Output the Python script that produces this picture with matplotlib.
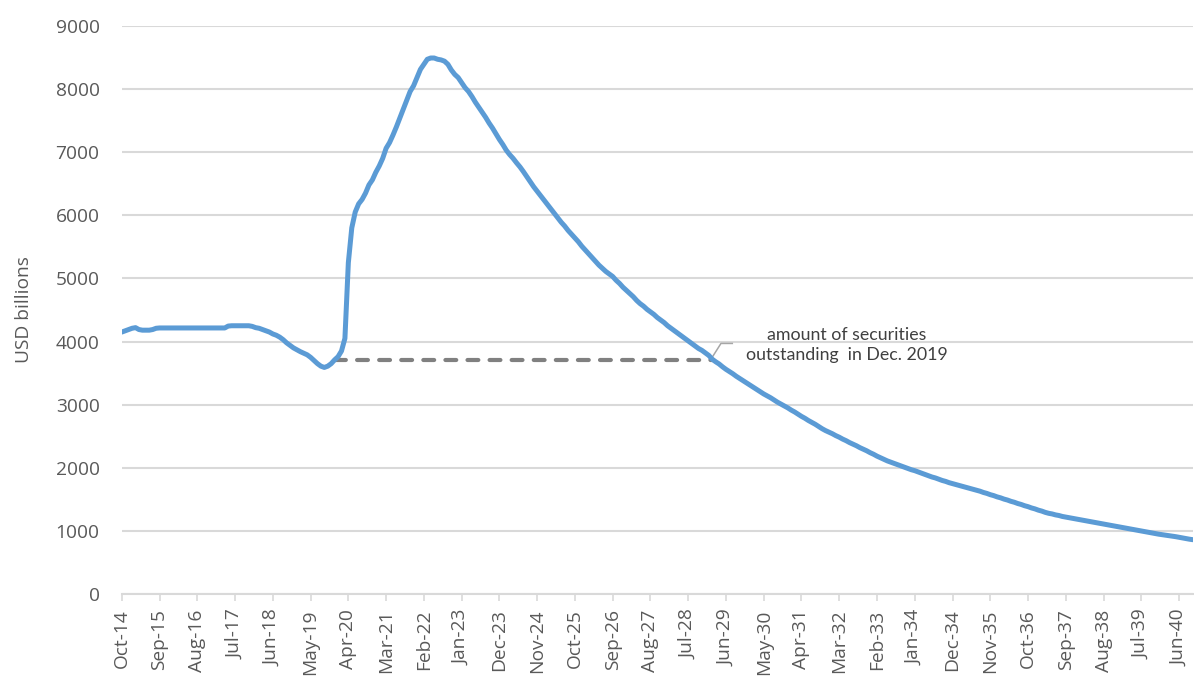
import matplotlib
matplotlib.use("Agg")
import matplotlib.pyplot as plt
import pandas as pd

# Monthly securities holdings, USD billions, Oct-2014 .. Oct-2040
start_month = "2014-10-01"
holdings = [
    4150, 4170, 4190,                                                      # 2014
    4210, 4220, 4190, 4180, 4180, 4180, 4190, 4210, 4215, 4215, 4215, 4215,  # 2015
    4215, 4215, 4215, 4215, 4215, 4215, 4215, 4215, 4215, 4215, 4215, 4215,  # 2016
    4215, 4215, 4215, 4215, 4245, 4250, 4250, 4250, 4250, 4250, 4250, 4240,  # 2017
    4220, 4210, 4190, 4170, 4150, 4120, 4100, 4070, 4030, 3980, 3940, 3900,  # 2018
    3870, 3840, 3815, 3790, 3750, 3700, 3650, 3610, 3590, 3610, 3650, 3710,  # 2019
    3760, 3850, 4050, 5250, 5800, 6050, 6180, 6250, 6350, 6480, 6560, 6680,  # 2020
    6780, 6900, 7060, 7150, 7270, 7400, 7540, 7680, 7820, 7960, 8050, 8180,  # 2021
    8310, 8390, 8470, 8490, 8490, 8470, 8460, 8440, 8390, 8300, 8230, 8180,  # 2022
    8100, 8020, 7960, 7880, 7790, 7710, 7630, 7550, 7460, 7380, 7290, 7200,  # 2023
    7120, 7030, 6960, 6900, 6830, 6765, 6690, 6610, 6530, 6450, 6380, 6310,  # 2024
    6240, 6170, 6100, 6030, 5960, 5890, 5830, 5760, 5700, 5640, 5580, 5510,  # 2025
    5450, 5390, 5330, 5270, 5210, 5160, 5110, 5070, 5030, 4970, 4920, 4860,  # 2026
    4810, 4760, 4710, 4650, 4600, 4560, 4510, 4470, 4430, 4380, 4340, 4300,  # 2027
    4250, 4210, 4170, 4130, 4090, 4050, 4010, 3970, 3930, 3890, 3860, 3820,  # 2028
    3780, 3720, 3680, 3645, 3600, 3560, 3525, 3490, 3450, 3415, 3380, 3345,  # 2029
    3310, 3275, 3240, 3205, 3170, 3140, 3110, 3075, 3040, 3010, 2980, 2950,  # 2030
    2915, 2885, 2850, 2815, 2785, 2750, 2720, 2690, 2655, 2620, 2590, 2565,  # 2031
    2540, 2510, 2485, 2455, 2430, 2400, 2375, 2350, 2320, 2295, 2270, 2240,  # 2032
    2215, 2185, 2160, 2135, 2110, 2090, 2070, 2050, 2030, 2010, 1990, 1970,  # 2033
    1955, 1935, 1915, 1895, 1875, 1855, 1840, 1820, 1800, 1785, 1765, 1750,  # 2034
    1735, 1720, 1705, 1690, 1675, 1660, 1645, 1630, 1610, 1595, 1575, 1560,  # 2035
    1540, 1525, 1505, 1490, 1470, 1455, 1435, 1420, 1400, 1385, 1365, 1350,  # 2036
    1330, 1315, 1295, 1280, 1270, 1255, 1245, 1230, 1220, 1210, 1200, 1190,  # 2037
    1180, 1170, 1160, 1150, 1140, 1130, 1120, 1110, 1100, 1090, 1080, 1070,  # 2038
    1060, 1050, 1040, 1030, 1020, 1010, 1000, 990, 980, 970, 960, 950,      # 2039
    942, 934, 926, 918, 910, 900, 890, 880, 870, 862,                      # 2040
]
ref_month = "2019-12-01"
tick_step = 11
y_ticks = list(range(0, 9001, 1000))
note_text = "amount of securities\noutstanding  in Dec. 2019"

months = pd.date_range(start_month, periods=len(holdings), freq="MS")
idx = list(range(len(holdings)))
labels = [m.strftime("%b-%y") for m in months]

# level in Dec-2019 and the month the runoff gets back to it
ref_i = list(months).index(pd.Timestamp(ref_month))
ref_val = holdings[ref_i]
peak_i = holdings.index(max(holdings))
back_i = next(i for i in range(peak_i, len(holdings)) if holdings[i] <= ref_val)
x_back = back_i - 1 + (holdings[back_i - 1] - ref_val) / (holdings[back_i - 1] - holdings[back_i])

txt = "#595959"
fs = 13.8
fig = plt.figure(figsize=(11.94, 6.79), dpi=100)
ax = fig.add_axes([0.102, 0.125, 0.897, 0.837])

ax.plot(idx, holdings, color="#5b9bd5", lw=3.6, solid_joinstyle="round",
        solid_capstyle="round", zorder=3)
ax.plot([ref_i, x_back], [ref_val, ref_val], color="#808080", lw=3,
        linestyle=(0, (2.6, 2.7)), dash_capstyle="round", zorder=2)

# leader line to the note
ax.plot([x_back - 0.5, x_back + 2.3, x_back + 5.6], [ref_val + 20, ref_val + 260, ref_val + 260],
        color="#a6a6a6", lw=1.1, zorder=2)
ax.text(x_back + 39, ref_val + 235, note_text, ha="center", va="center",
        fontsize=12.8, color="#404040", family="Lato", linespacing=1.3)

ax.set_xlim(0, len(holdings) - 1)
ax.set_ylim(0, 9000)
ax.set_yticks(y_ticks)
ax.set_yticklabels([str(v) for v in y_ticks], family="Open Sans", fontsize=fs, color=txt)
ax.set_xticks(idx[::tick_step])
ax.set_xticklabels(labels[::tick_step], rotation=90, family="Open Sans", fontsize=fs, color=txt)

ax.grid(axis="y", color="#d9d9d9", lw=1.5)
ax.set_axisbelow(True)
for s in ["top", "right", "left"]:
    ax.spines[s].set_visible(False)
ax.spines["bottom"].set_color("#d9d9d9")
ax.spines["bottom"].set_linewidth(1.5)
ax.tick_params(axis="y", length=0, pad=16)
ax.tick_params(axis="x", length=5, width=1.2, color="#d9d9d9", pad=6)

ax.set_ylabel("USD billions", family="Open Sans", fontsize=fs, color=txt)
ax.yaxis.set_label_coords(-0.083, 0.5)

fig.savefig("out.png", dpi=100)
